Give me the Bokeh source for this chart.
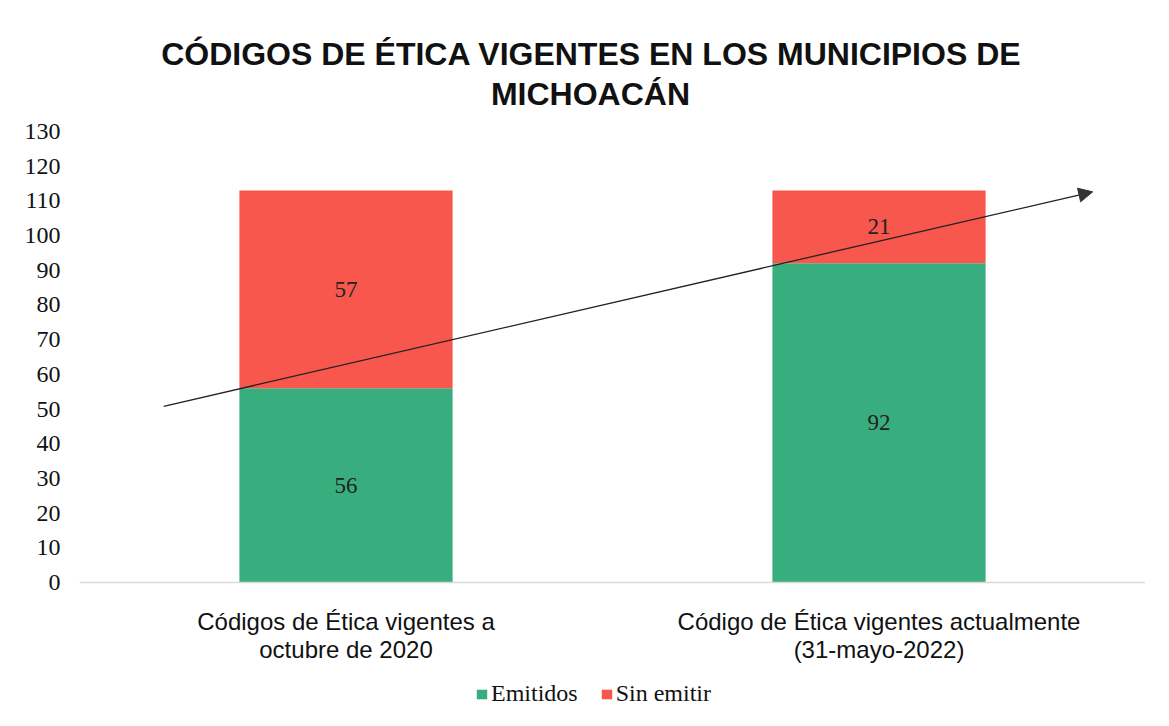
from bokeh.plotting import figure
from bokeh.models import (Range1d, FixedTicker, Legend, LegendItem, Span,
                          ColumnDataSource, Arrow, NormalHead)
from bokeh.core.properties import value
from bokeh.embed import file_html
from bokeh.resources import INLINE

title_lines = ["CÓDIGOS DE ÉTICA VIGENTES EN LOS MUNICIPIOS DE", "MICHOACÁN"]
categories = ["Códigos de Ética vigentes a\noctubre de 2020",
              "Código de Ética vigentes actualmente\n(31-mayo-2022)"]
cat_pos = [0.5, 1.5]
emitidos = [56, 92]
sin_emitir = [57, 21]
series = ["Emitidos", "Sin emitir"]
colors = ["#38ae7e", "#f8574d"]
y_ticks = list(range(0, 131, 10))
trend_x = [0.158, 1.901]
trend_y = [50.8, 112.6]

SERIF = "Liberation Serif"
SANS = "Liberation Sans"

# pixel geometry: y=0 sits 582px from the top, y=130 at 131px
H = 710
K = (582 - 131) / 130.0          # px per unit
Y_MAX = 582 / K
Y_MIN = -(H - 582) / K

def ypix(py):
    """page pixel row -> data y"""
    return (582 - py) / K

p = figure(width=1153, height=H, output_backend="svg", toolbar_location=None,
           x_range=Range1d(0, 2), y_range=Range1d(Y_MIN, Y_MAX),
           min_border_left=79, min_border_right=8, min_border_top=0,
           min_border_bottom=0, title=None)

src = ColumnDataSource(dict(x=cat_pos, Emitidos=emitidos, Sin_emitir=sin_emitir))
renderers = p.vbar_stack(["Emitidos", "Sin_emitir"], x="x", width=0.4, source=src,
                         color=colors, line_color=None)

# baseline at 0
p.add_layout(Span(location=0, dimension="width", line_color="#d9d9d9", line_width=1.5))

# value labels
lab_x = cat_pos + cat_pos
lab_y = [e / 2 for e in emitidos] + [e + s / 2 for e, s in zip(emitidos, sin_emitir)]
lab_t = [str(v) for v in emitidos + sin_emitir]
p.text(x=lab_x, y=lab_y, text=lab_t, text_align="center", text_baseline="middle",
       text_font=value(SERIF), text_font_size="23px", text_color="#222222")

# category labels (two lines each) below the baseline
for li, py in enumerate([621, 649]):
    p.text(x=cat_pos, y=[ypix(py)] * len(cat_pos),
           text=[c.split("\n")[li] for c in categories],
           text_align="center", text_baseline="alphabetic",
           text_font=value(SANS), text_font_size="24px", text_color="#111111")

# title lines
p.text(x=[(592 - 80) / 533.0, (591 - 80) / 533.0], y=[ypix(53), ypix(93)],
       text=title_lines, text_align="center", text_baseline="alphabetic",
       text_font=value(SANS), text_font_size="32px", text_font_style="bold",
       text_color="#111111")

# trend arrow
p.add_layout(Arrow(end=NormalHead(size=14, fill_color="#333333", line_color="#333333"),
                   x_start=trend_x[0], y_start=trend_y[0],
                   x_end=trend_x[1], y_end=trend_y[1],
                   line_color="#222222", line_width=1.3))

# axes
p.xaxis.visible = False

p.yaxis.ticker = FixedTicker(ticks=y_ticks)
p.yaxis.major_label_text_font = SERIF
p.yaxis.major_label_text_font_size = "24px"
p.yaxis.major_label_text_color = "#111111"
p.yaxis.major_tick_line_color = None
p.yaxis.minor_tick_line_color = None
p.yaxis.axis_line_color = None
p.yaxis.major_label_standoff = 13

p.xgrid.grid_line_color = None
p.ygrid.grid_line_color = None
p.outline_line_color = None

legend = Legend(items=[LegendItem(label=series[0], renderers=[renderers[0]]),
                       LegendItem(label=series[1], renderers=[renderers[1]])],
                orientation="horizontal", location=(396, 3),
                label_text_font=SERIF, label_text_font_size="24px",
                label_text_color="#111111", glyph_width=13, glyph_height=12,
                spacing=22, label_standoff=3, border_line_color=None,
                background_fill_alpha=0, margin=0, padding=0)
p.add_layout(legend, "center")

open("out.html", "w").write(file_html(p, INLINE))
